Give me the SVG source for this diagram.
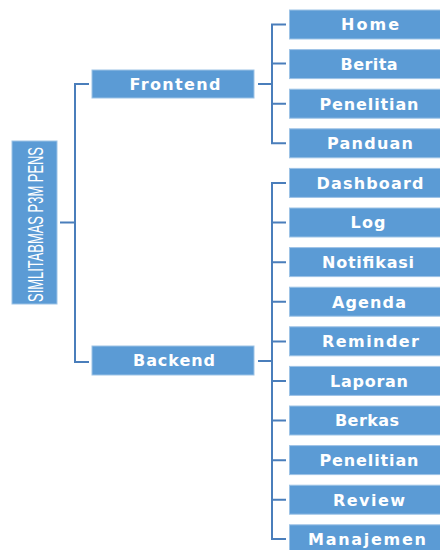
<svg xmlns="http://www.w3.org/2000/svg" width="440" height="550" viewBox="0 0 440 550">
<style>
.box{fill:#5B9BD5;stroke:#9DC3E6;stroke-width:1}
.lbl{font-family:"DejaVu Sans",Verdana,sans-serif;font-weight:bold;font-size:16px;fill:#ffffff;text-anchor:middle}
.root{font-family:"Liberation Sans",Arial,sans-serif;font-size:22px;fill:#ffffff;text-anchor:middle}
.conn{fill:none;stroke:#4A7EBB;stroke-width:2}
</style>
<rect width="440" height="550" fill="#ffffff"/>
<g id="connectors" class="conn">
<path d="M60 222.5H75M89 84H75V362H89"/>
<path d="M258 84H272M286 24.5H272V143.3H286M272 63.6H286M272 103.7H286"/>
<path d="M258 361H272M286 183H272V539H286M272 222.6H286M272 262.2H286M272 301.8H286M272 341.4H286M272 381H286M272 420.6H286M272 460.2H286M272 499.8H286"/>
</g>
<g id="root"><rect class="box" x="12" y="141" width="45" height="163"/><text class="root" transform="translate(43 224.5) rotate(-90)" textLength="155" lengthAdjust="spacingAndGlyphs">SIMLITABMAS P3M PENS</text></g>
<g id="frontend"><rect class="box" x="92" y="70" width="162" height="28"/><text class="lbl" x="175" y="89.5" textLength="91" lengthAdjust="spacing">Frontend</text></g>
<g id="backend"><rect class="box" x="92" y="346" width="162" height="29"/><text class="lbl" x="174" y="366" textLength="82" lengthAdjust="spacing">Backend</text></g>
<g id="home"><rect class="box" x="289.5" y="10" width="152" height="29"/><text class="lbl" x="370" y="30.3" textLength="58" lengthAdjust="spacing">Home</text></g>
<g id="berita"><rect class="box" x="289.5" y="49.6" width="152" height="29"/><text class="lbl" x="369" y="69.9" textLength="57" lengthAdjust="spacing">Berita</text></g>
<g id="penelitian1"><rect class="box" x="289.5" y="89.2" width="152" height="29"/><text class="lbl" x="369" y="109.5" textLength="99" lengthAdjust="spacing">Penelitian</text></g>
<g id="panduan"><rect class="box" x="289.5" y="128.8" width="152" height="29"/><text class="lbl" x="370" y="149.1" textLength="86" lengthAdjust="spacing">Panduan</text></g>
<g id="dashboard"><rect class="box" x="289.5" y="168.4" width="152" height="29"/><text class="lbl" x="370" y="188.7" textLength="107" lengthAdjust="spacing">Dashboard</text></g>
<g id="log"><rect class="box" x="289.5" y="208" width="152" height="29"/><text class="lbl" x="368" y="228.3" textLength="35" lengthAdjust="spacing">Log</text></g>
<g id="notifikasi"><rect class="box" x="289.5" y="247.6" width="152" height="29"/><text class="lbl" x="368" y="267.9" textLength="92" lengthAdjust="spacing">Notifikasi</text></g>
<g id="agenda"><rect class="box" x="289.5" y="287.2" width="152" height="29"/><text class="lbl" x="369" y="307.5" textLength="74" lengthAdjust="spacing">Agenda</text></g>
<g id="reminder"><rect class="box" x="289.5" y="326.8" width="152" height="29"/><text class="lbl" x="370.5" y="347.1" textLength="97" lengthAdjust="spacing">Reminder</text></g>
<g id="laporan"><rect class="box" x="289.5" y="366.4" width="152" height="29"/><text class="lbl" x="369" y="386.7" textLength="78" lengthAdjust="spacing">Laporan</text></g>
<g id="berkas"><rect class="box" x="289.5" y="406" width="152" height="29"/><text class="lbl" x="367" y="426.3" textLength="64" lengthAdjust="spacing">Berkas</text></g>
<g id="penelitian2"><rect class="box" x="289.5" y="445.6" width="152" height="29"/><text class="lbl" x="369" y="465.9" textLength="99" lengthAdjust="spacing">Penelitian</text></g>
<g id="review"><rect class="box" x="289.5" y="485.2" width="152" height="29"/><text class="lbl" x="369" y="505.5" textLength="72" lengthAdjust="spacing">Review</text></g>
<g id="manajemen"><rect class="box" x="289.5" y="524.8" width="152" height="29"/><text class="lbl" x="367" y="545.1" textLength="118" lengthAdjust="spacing">Manajemen</text></g>
</svg>
